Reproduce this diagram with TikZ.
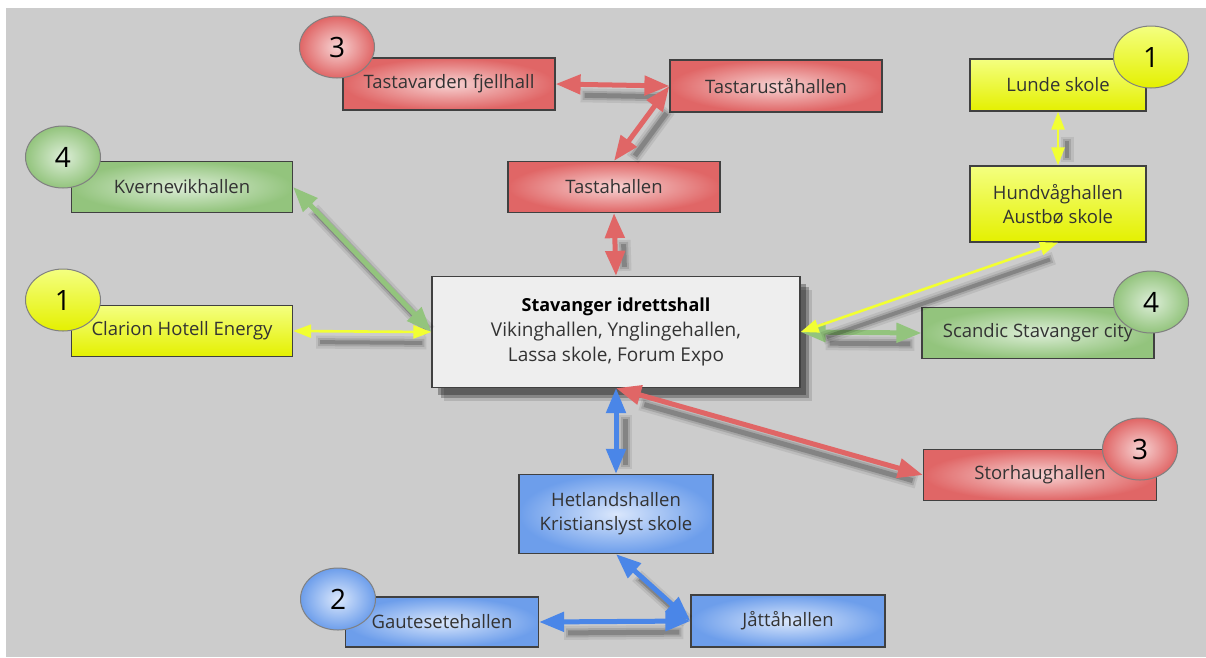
\documentclass[tikz,border=0pt]{standalone}
\usepackage{fontspec}
\setmainfont{Open Sans}
\usetikzlibrary{arrows.meta,shapes.geometric,shadows}
\definecolor{hallred}{HTML}{E06666}
\definecolor{lightred}{HTML}{F7D3D3}
\definecolor{hallgreen}{HTML}{93C47D}
\definecolor{lightgreen}{HTML}{DDEED8}
\definecolor{hallblue}{HTML}{6D9EEB}
\definecolor{lightblue}{HTML}{DAE7FC}
\definecolor{linkblue}{HTML}{4A86E8}
\definecolor{hallyellow}{HTML}{E4F000}
\definecolor{lightyellow}{HTML}{F4FF80}
\definecolor{linkyellow}{HTML}{F2FF33}
\definecolor{backgrey}{HTML}{CCCCCC}
\definecolor{centregrey}{HTML}{EEEEEE}

\begin{document}
\begin{tikzpicture}[x=1pt,y=-1pt]
\tikzstyle{every node}+=[inner sep=0pt]
\tikzstyle{hall}=[rectangle, draw=black!75, line width=1.2pt, align=center, text=black!80, font=\fontsize{18.5}{24}\selectfont]
\tikzstyle{redhall}=[hall, inner color=lightred, outer color=hallred]
\tikzstyle{greenhall}=[hall, inner color=lightgreen, outer color=hallgreen]
\tikzstyle{bluehall}=[hall, inner color=lightblue, outer color=hallblue]
\tikzstyle{yellowhall}=[hall, top color=lightyellow, bottom color=hallyellow]
\tikzstyle{badge}=[ellipse, draw=black!50, line width=1pt, minimum width=75pt, minimum height=62pt, text=black, font=\fontsize{28}{28}\selectfont]
\tikzstyle{link}=[line width=5pt, {Triangle[length=25pt,width=19pt]}-{Triangle[length=25pt,width=19pt]},
  preaction={draw=black, opacity=0.08, line width=14pt, arrows=-, shorten <=16pt, shorten >=16pt, transform canvas={xshift=9pt,yshift=-11pt}},
  preaction={draw=black, opacity=0.12, line width=9pt, arrows=-, shorten <=18pt, shorten >=18pt, transform canvas={xshift=9pt,yshift=-11pt}},
  preaction={draw=black, opacity=0.2, line width=5pt, arrows=-, shorten <=20pt, shorten >=20pt, transform canvas={xshift=9pt,yshift=-11pt}}]
\tikzstyle{thinlink}=[line width=2.6pt, {Triangle[length=18pt,width=13pt]}-{Triangle[length=18pt,width=13pt]},
  preaction={draw=black, opacity=0.08, line width=13pt, arrows=-, shorten <=14pt, shorten >=14pt, transform canvas={xshift=9pt,yshift=-11pt}},
  preaction={draw=black, opacity=0.12, line width=8pt, arrows=-, shorten <=16pt, shorten >=16pt, transform canvas={xshift=9pt,yshift=-11pt}},
  preaction={draw=black, opacity=0.2, line width=4pt, arrows=-, shorten <=18pt, shorten >=18pt, transform canvas={xshift=9pt,yshift=-11pt}}]

\useasboundingbox (0,0) rectangle (1206,657);
\fill [white] (0,0) rectangle (1206,657);
\fill [backgrey] (6,8) rectangle (1206,657);

\node [hall, fill=centregrey, minimum width=368pt, minimum height=111pt,
  drop shadow={shadow xshift=12pt, shadow yshift=-13pt, fill=black, opacity=0.12},
  drop shadow={shadow xshift=9pt, shadow yshift=-10pt, fill=black, opacity=0.25},
  drop shadow={shadow xshift=6pt, shadow yshift=-7pt, fill=black, opacity=0.3},
  font=\fontsize{19}{25}\selectfont] (stavanger) at (616,332) {{\fontsize{18}{25}\selectfont\bfseries\color{black}Stavanger idrettshall}\\Vikinghallen, Ynglingehallen,\\Lassa skole, Forum Expo};

\node [redhall, minimum width=212pt, minimum height=52pt] (tastavarden) at (449,84) {Tastavarden fjellhall};
\node [redhall, minimum width=212pt, minimum height=52pt] (tastarust) at (776,86) {Tastaruståhallen};
\node [redhall, minimum width=212pt, minimum height=51pt] (tasta) at (614,187) {Tastahallen};
\node [redhall, minimum width=233pt, minimum height=51pt] (storhaug) at (1040,475) {Storhaughallen};
\node [greenhall, minimum width=221pt, minimum height=51pt] (kvernevik) at (182,187) {Kvernevikhallen};
\node [greenhall, minimum width=232pt, minimum height=51pt] (scandic) at (1038,333) {Scandic Stavanger city};
\node [yellowhall, minimum width=221pt, minimum height=51pt] (clarion) at (182,331) {Clarion Hotell Energy};
\node [yellowhall, minimum width=176pt, minimum height=52pt] (lunde) at (1058,85) {Lunde skole};
\node [yellowhall, minimum width=176pt, minimum height=76pt] (hundvaag) at (1058,204) {Hundvåghallen\\Austbø skole};
\node [bluehall, minimum width=194pt, minimum height=79pt] (hetland) at (616,514) {Hetlandshallen\\Kristianslyst skole};
\node [bluehall, minimum width=193pt, minimum height=50pt] (gautesete) at (442,622) {Gautesetehallen};
\node [bluehall, minimum width=194pt, minimum height=52pt] (jaatta) at (788,621) {Jåttåhallen};

\draw [link, hallred] (tastavarden.east) -- (tastarust.west);
\draw [link, hallred] (tastarust.west) -- (tasta.north);
\draw [link, hallred] (tasta.south) -- (stavanger.north);
\draw [link, hallred] (storhaug.west) -- (stavanger.south);
\draw [link, hallgreen] (kvernevik.east) -- (stavanger.west);
\draw [link, hallgreen] (scandic.west) -- (stavanger.east);
\draw [thinlink, linkyellow] (clarion.east) -- (stavanger.west);
\draw [thinlink, linkyellow] (lunde.south) -- (hundvaag.north);
\draw [thinlink, linkyellow] (hundvaag.south) -- (stavanger.east);
\draw [link, linkblue] (stavanger.south) -- (hetland.north);
\draw [link, linkblue] (hetland.south) -- (jaatta.west);
\draw [link, linkblue] (gautesete.east) -- (jaatta.west);

\node [badge, inner color=lightred, outer color=hallred] (badgetastavarden) at (337,47) {3};
\node [badge, inner color=lightred, outer color=hallred] (badgestorhaug) at (1140,449) {3};
\node [badge, inner color=lightgreen, outer color=hallgreen] (badgekvernevik) at (63,157) {4};
\node [badge, inner color=lightgreen, outer color=hallgreen] (badgescandic) at (1151,302) {4};
\node [badge, top color=lightyellow, bottom color=hallyellow] (badgeclarion) at (63,300) {1};
\node [badge, top color=lightyellow, bottom color=hallyellow] (badgelunde) at (1151,57) {1};
\node [badge, inner color=lightblue, outer color=hallblue] (badgegautesete) at (338,599) {2};
\end{tikzpicture}
\end{document}
